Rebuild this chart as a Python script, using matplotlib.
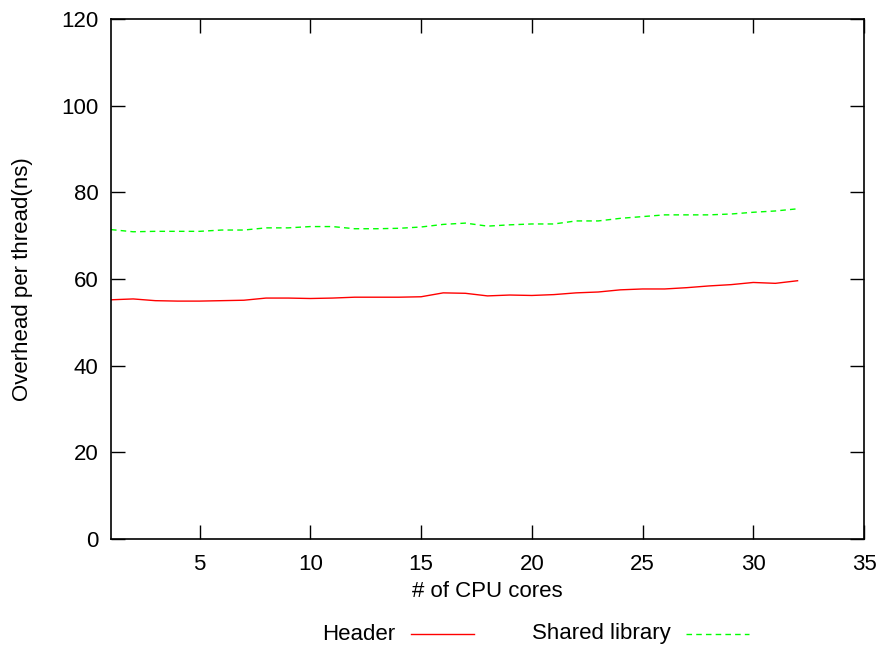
import matplotlib
matplotlib.use("Agg")
import matplotlib.pyplot as plt
from matplotlib.lines import Line2D

cores = list(range(1, 33))
header = [55.2, 55.4, 55.0, 54.9, 54.9, 55.0, 55.1, 55.6, 55.6, 55.5, 55.6, 55.8, 55.8, 55.8, 55.9, 56.8,
          56.7, 56.1, 56.3, 56.2, 56.4, 56.8, 57.0, 57.5, 57.7, 57.7, 58.0, 58.4, 58.7, 59.2, 59.0, 59.6]
shared = [71.4, 70.9, 71.0, 71.0, 71.0, 71.3, 71.3, 71.8, 71.8, 72.1, 72.1, 71.6, 71.6, 71.7, 72.0, 72.6,
          72.9, 72.2, 72.5, 72.7, 72.7, 73.4, 73.4, 74.0, 74.4, 74.8, 74.8, 74.8, 75.0, 75.4, 75.7, 76.2]
xticks = [5, 10, 15, 20, 25, 30, 35]
yticks = [0, 20, 40, 60, 80, 100, 120]

plt.rcParams['font.family'] = ['Liberation Sans', 'DejaVu Sans']
fs = 16

fig = plt.figure(figsize=(8.84, 6.47), dpi=100)
ax = fig.add_axes([111/884, 1-539/647, (864-111)/884, (539-19)/647])

ax.plot(cores, header, color='#ff0000', lw=1, label='Header')
ax.plot(cores, shared, color='#00ff00', lw=1, ls=(0, (4, 3)), label='Shared library')

ax.set_xlim(1, 35)
ax.set_ylim(0, 120)
ax.set_xticks(xticks)
ax.set_yticks(yticks)
ax.tick_params(direction='in', length=10, width=1, top=True, right=True, labelsize=fs)
ax.tick_params(axis='x', pad=11)
ax.tick_params(axis='y', pad=9)
for s in ax.spines.values():
    s.set_linewidth(1.2)
ax.set_xlabel('# of CPU cores', fontsize=fs, labelpad=4)
ax.set_ylabel('Overhead per thread(ns)', fontsize=fs, labelpad=20)

# gnuplot-style key below plot: text then sample
y = 1 - 634/647
fig.text(395/884, y, 'Header', ha='right', va='center', fontsize=fs)
fig.add_artist(Line2D([411/884, 474/884], [y, y], color='#ff0000', lw=1))
fig.text(671/884, y, 'Shared library', ha='right', va='center', fontsize=fs)
fig.add_artist(Line2D([686/884, 749/884], [y, y], color='#00ff00', lw=1, ls=(0, (4, 3))))

fig.savefig('out.png', dpi=100)
